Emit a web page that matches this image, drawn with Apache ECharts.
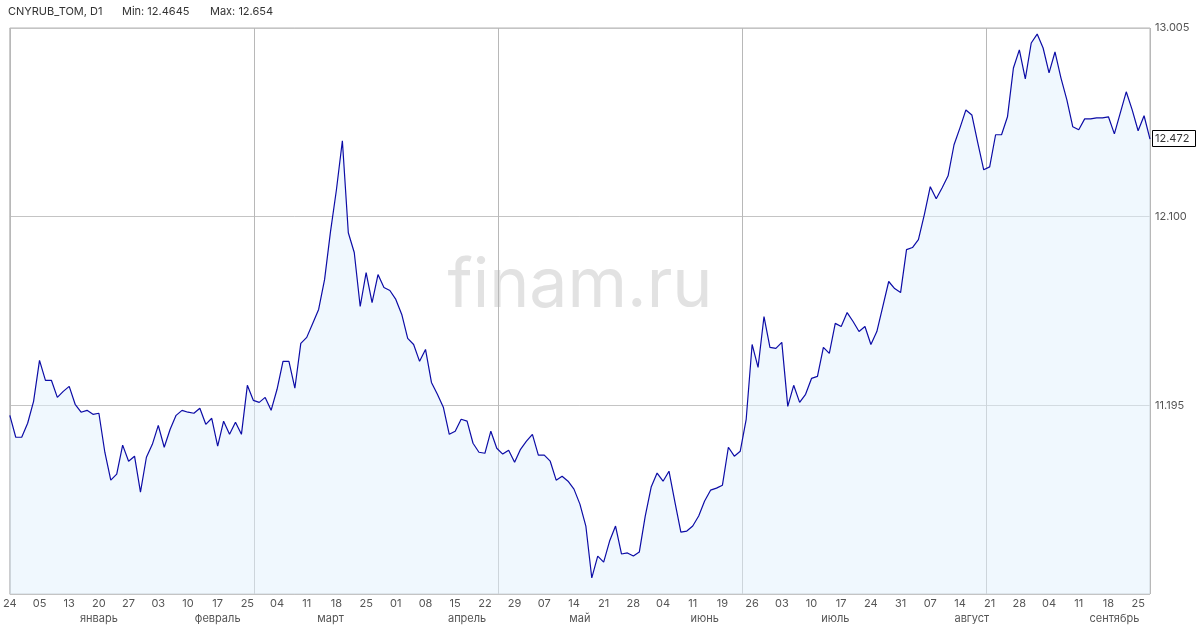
<!DOCTYPE html>
<html>
<head>
<meta charset="utf-8">
<script src="https://cdn.jsdelivr.net/npm/echarts@6/dist/echarts.min.js"></script>
<style>
html,body{margin:0;padding:0;background:#fff;}
#c{width:1200px;height:630px;}
</style>
</head>
<body>
<div id="c"></div>
<script>
// ---- data ----
const weekLabels = ['24','05','13','20','27','03','10','17','25','04','11','18','25','01','08','15','22','29','07','14','21','28','04','11','19','26','03','10','17','24','31','07','14','21','28','04','11','18','25'];
const monthNames = ['январь','февраль','март','апрель','май','июнь','июль','август','сентябрь'];
const monthIndex = [15,35,54,77,96,117,139,162,186];
const closeValues = [
11.147,11.042,11.042,11.109,11.214,11.411,11.315,11.315,11.233,11.262,
11.286,11.200,11.162,11.171,11.152,11.157,10.970,10.836,10.865,11.004,
10.927,10.951,10.779,10.946,11.008,11.099,10.994,11.080,11.147,11.171,
11.162,11.157,11.181,11.104,11.133,10.999,11.119,11.056,11.114,11.056,
11.291,11.219,11.209,11.233,11.171,11.272,11.406,11.406,11.277,11.492,
11.521,11.588,11.655,11.798,12.028,12.229,12.464,12.023,11.928,11.669,
11.832,11.688,11.822,11.760,11.746,11.703,11.631,11.516,11.487,11.406,
11.463,11.305,11.248,11.186,11.056,11.071,11.128,11.119,11.013,10.970,
10.965,11.071,10.989,10.961,10.980,10.922,10.984,11.023,11.056,10.956,
10.956,10.927,10.836,10.855,10.831,10.793,10.721,10.616,10.367,10.472,
10.443,10.544,10.616,10.482,10.487,10.472,10.491,10.664,10.803,10.870,
10.831,10.879,10.731,10.587,10.592,10.616,10.664,10.736,10.788,10.798,
10.812,10.994,10.951,10.975,11.128,11.487,11.377,11.621,11.473,11.468,
11.497,11.190,11.291,11.209,11.248,11.324,11.334,11.473,11.444,11.588,
11.573,11.640,11.597,11.549,11.573,11.487,11.549,11.669,11.789,11.755,
11.736,11.942,11.952,11.990,12.110,12.244,12.186,12.239,12.296,12.445,
12.526,12.612,12.588,12.454,12.325,12.339,12.493,12.493,12.579,12.813,
12.900,12.761,12.933,12.976,12.909,12.790,12.890,12.766,12.660,12.531,
12.517,12.569,12.569,12.574,12.574,12.579,12.497,12.598,12.699,12.612,
12.512,12.584,12.472
];
const yTicks = {min: 10.29, max: 13.005, step: 0.905};
const titleText = 'CNYRUB_TOM, D1';
const minText = 'Min: 12.4645';
const maxText = 'Max: 12.654';
const watermark = 'finam.ru';

// ---- chart ----
const categories = closeValues.map((_, i) => i);
const lastValue = closeValues[closeValues.length - 1];
const FONT = 'Inter, "Noto Sans", sans-serif';

const chart = echarts.init(document.getElementById('c'), null, {renderer: 'canvas'});
const option = {
  animation: false,
  backgroundColor: '#ffffff',
  grid: {left: 8, right: 50, top: 28, bottom: 36, show: true, borderColor: '#b4b4b4', borderWidth: 1, backgroundColor: 'transparent'},
  xAxis: [
    {
      type: 'category', data: categories, boundaryGap: false, position: 'bottom',
      axisLine: {show: false}, axisTick: {show: false}, splitLine: {show: false},
      axisLabel: {
        interval: (i) => i % 5 === 0,
        formatter: (v, i) => (i % 5 === 0 ? (weekLabels[i / 5] || '') : ''),
        color: '#555', fontSize: 11, fontFamily: FONT, margin: 4
      }
    },
    {
      type: 'category', data: categories, boundaryGap: false, position: 'bottom', offset: 15,
      axisLine: {show: false}, axisTick: {show: false}, splitLine: {show: false},
      axisLabel: {
        interval: (i) => monthIndex.indexOf(i) >= 0,
        formatter: (v, i) => { const k = monthIndex.indexOf(i); return k >= 0 ? monthNames[k] : ''; },
        color: '#555', fontSize: 11, fontFamily: FONT, margin: 4
      }
    },
    {
      type: 'value', min: 0, max: closeValues.length - 1, interval: (closeValues.length - 1) / 4.67,
      show: true, axisLine: {show: false}, axisTick: {show: false}, axisLabel: {show: false},
      splitLine: {show: true, lineStyle: {color: '#b8b8b8', width: 1}}
    }
  ],
  yAxis: {
    type: 'value', position: 'right', min: yTicks.min, max: yTicks.max, interval: yTicks.step,
    axisLine: {show: false}, axisTick: {show: false},
    axisLabel: {
      formatter: (v) => (v < yTicks.min + 0.01 ? '' : v.toFixed(3)),
      color: '#555', fontSize: 11, fontFamily: FONT, margin: 5
    },
    splitLine: {show: true, lineStyle: {color: '#c4c4c4', width: 1}}
  },
  graphic: [
    {type: 'text', left: 8, top: 6, style: {text: titleText, fill: '#333', font: '11px ' + FONT}},
    {type: 'text', left: 122, top: 6, style: {text: minText, fill: '#333', font: '11px ' + FONT}},
    {type: 'text', left: 210, top: 6, style: {text: maxText, fill: '#333', font: '11px ' + FONT}},
    {type: 'text', x: 580, y: 287, z: -10, style: {text: watermark, fill: '#e2e2e2', font: '68px ' + FONT, textAlign: 'center', textVerticalAlign: 'middle'}}
  ],
  series: [{
    type: 'line', data: closeValues, xAxisIndex: 0, yAxisIndex: 0,
    showSymbol: false, symbol: 'none',
    lineStyle: {color: '#0c0ca6', width: 1.2},
    areaStyle: {color: 'rgba(226,241,253,0.72)', origin: 'start'},
    z: 3
  }]
};
chart.setOption(option);

const ly = chart.convertToPixel({yAxisIndex: 0}, lastValue);
chart.setOption({
  graphic: option.graphic.concat([
    {type: 'rect', shape: {x: 1152.5, y: Math.round(ly) - 8.5, width: 43, height: 16}, style: {fill: '#fff', stroke: '#000', lineWidth: 1}, z: 10},
    {type: 'text', x: 1155, y: Math.round(ly), z: 11, style: {text: lastValue.toFixed(3), fill: '#333', font: '11px ' + FONT, textVerticalAlign: 'middle'}}
  ])
});
</script>
</body>
</html>
